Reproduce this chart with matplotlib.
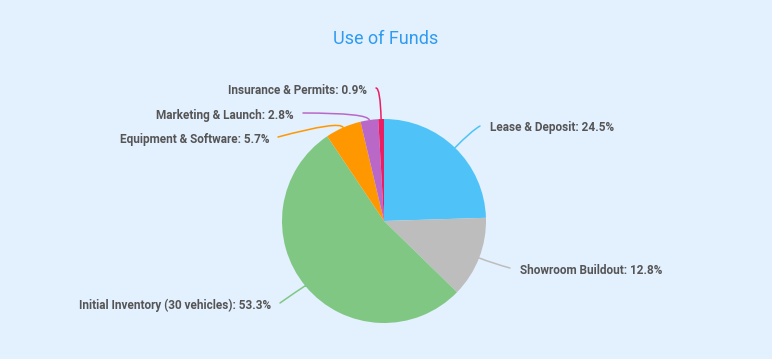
import numpy as np
import matplotlib
matplotlib.use("Agg")
from matplotlib import pyplot as plt

labels = ["Lease & Deposit", "Showroom Buildout", "Initial Inventory (30 vehicles)",
          "Equipment & Software", "Marketing & Launch", "Insurance & Permits"]
values = [24.5, 12.8, 53.3, 5.7, 2.8, 0.9]
colors = ["#4FC3F7", "#BDBDBD", "#81C784", "#FF9800", "#BA68C8", "#E91E63"]

# label anchor (pixel, y down), alignment and angle of the leader near the text
label_pos = [(480, 126, "left", 30), (510, 268, "left", -15), (280, 303, "right", 35),
             (278, 137, "right", 15), (303, 113, "right", 0), (376, 88, "right", 0)]

W, H = 772, 359
cx, cy, R = 384, 221, 102
bg = "#E3F0FE"

plt.rcParams['font.family'] = ['Roboto', 'DejaVu Sans']
fig = plt.figure(figsize=(W / 100, H / 100), dpi=100, facecolor=bg)
ax = fig.add_axes([0, 0, 1, 1])
ax.set_facecolor(bg)

wedges, _ = ax.pie(values, colors=colors, startangle=90, counterclock=False,
                   radius=R, center=(cx, H - cy), frame=True)
ax.set_xlim(0, W)
ax.set_ylim(0, H)
ax.set_aspect('equal')
ax.axis('off')

for w, lab, v, col, (lx, ly, ha, angA) in zip(wedges, labels, values, colors, label_pos):
    mid = np.deg2rad((w.theta1 + w.theta2) / 2)
    ex = cx + R * np.cos(mid)
    ey = H - cy + R * np.sin(mid)
    ang = np.rad2deg(mid)
    ax.annotate("", xy=(ex, ey), xytext=(lx, H - ly),
                arrowprops=dict(arrowstyle='-', color=col, lw=1.1, shrinkA=0, shrinkB=0,
                                connectionstyle=f"angle3,angleA={angA},angleB={ang}"))
    tx = lx + 10 if ha == "left" else lx - 9
    ax.text(tx, H - ly - 2, f"{lab}: {v}%", ha=ha, va='center', fontsize=8.5,
            fontweight='bold', color='#555555')

fig.text(0.5, 1 - 39 / H, "Use of Funds", ha='center', va='center', fontsize=13,
         color='#2E9BF0')

fig.savefig("out.png", dpi=100, facecolor=bg)
